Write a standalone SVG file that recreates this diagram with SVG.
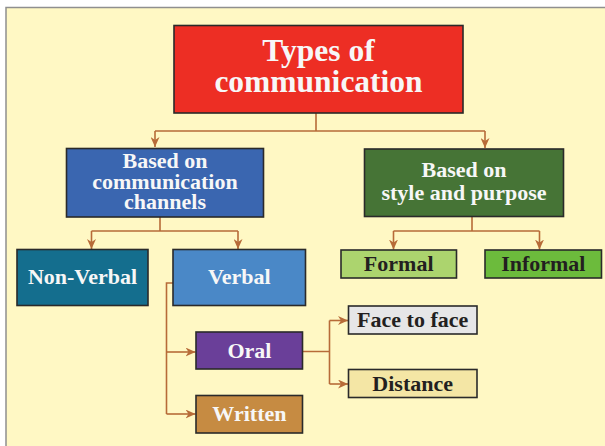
<svg xmlns="http://www.w3.org/2000/svg" width="605" height="446" viewBox="0 0 605 446">
<style>
.box{stroke:#2a2a2a;stroke-width:1.6}
.t{font-family:"Liberation Serif","Times New Roman",serif;font-weight:bold;text-anchor:middle}
.lt{fill:#f7f7f7}
.dk{fill:#231f20}
.m{font-size:22px}
.c{fill:none;stroke:#b76b38;stroke-width:1.6}
</style>
<defs>
<marker id="ah" markerUnits="userSpaceOnUse" markerWidth="11" markerHeight="9" refX="10" refY="4.5" orient="auto">
<path d="M0,0 L10,4.5 L0,9 L3,4.5 Z" fill="#b76b38"/>
</marker>
</defs>
<rect x="0" y="0" width="605" height="446" fill="#ffffff"/>
<rect x="6" y="7.5" width="620" height="460" fill="#fff8c4" stroke="#8f8f8f" stroke-width="1.5"/>

<g id="connectors">
<path class="c" d="M316,113 V131 M155,131 H485"/>
<path class="c" d="M155,131 V147" marker-end="url(#ah)"/>
<path class="c" d="M485,131 V148" marker-end="url(#ah)"/>
<path class="c" d="M160,217 V231 M91.5,231 H238"/>
<path class="c" d="M91.5,231 V249" marker-end="url(#ah)"/>
<path class="c" d="M238,231 V249" marker-end="url(#ah)"/>
<path class="c" d="M472,217 V231 M393.5,231 H539.5"/>
<path class="c" d="M393.5,231 V249.5" marker-end="url(#ah)"/>
<path class="c" d="M539.5,231 V249.5" marker-end="url(#ah)"/>
<path class="c" d="M173,283 H166.5 V414"/>
<path class="c" d="M166.5,352 H195.5" marker-end="url(#ah)"/>
<path class="c" d="M166.5,414 H195.5" marker-end="url(#ah)"/>
<path class="c" d="M302.5,351.5 H329.5 M329.5,320.5 V384"/>
<path class="c" d="M329.5,320.5 H348" marker-end="url(#ah)"/>
<path class="c" d="M329.5,384 H348" marker-end="url(#ah)"/>
</g>

<g id="title">
<rect class="box" x="174" y="25.5" width="289" height="87.5" fill="#ed2e24"/>
<text class="t lt" x="318.5" y="61" font-size="31.5">Types of</text>
<text class="t lt" x="318.5" y="92" font-size="31.5">communication</text>
</g>

<g id="channels">
<rect class="box" x="66.5" y="148.5" width="197" height="68.5" fill="#3a66b0"/>
<text class="t lt m" x="165" y="168">Based on</text>
<text class="t lt m" x="165" y="188.5">communication</text>
<text class="t lt m" x="165" y="209">channels</text>
</g>

<g id="style">
<rect class="box" x="364.5" y="149" width="199" height="67.5" fill="#467436"/>
<text class="t lt m" x="464" y="176.5">Based on</text>
<text class="t lt m" x="464" y="200">style and purpose</text>
</g>

<g id="nonverbal">
<rect class="box" x="17" y="249.5" width="131" height="56" fill="#146e8e"/>
<text class="t lt m" x="82.5" y="284">Non-Verbal</text>
</g>

<g id="verbal">
<rect class="box" x="173" y="249.5" width="132.5" height="56" fill="#4a88c7"/>
<text class="t lt m" x="239.3" y="283.5">Verbal</text>
</g>

<g id="formal">
<rect class="box" x="341" y="250" width="115.5" height="28" fill="#acd46e"/>
<text class="t dk m" x="398.7" y="270.5">Formal</text>
</g>

<g id="informal">
<rect class="box" x="485" y="250" width="116.5" height="28" fill="#6cbb3c"/>
<text class="t dk m" x="543.3" y="270.5">Informal</text>
</g>

<g id="oral">
<rect class="box" x="196" y="332" width="106.5" height="37" fill="#6a3f99"/>
<text class="t lt m" x="249.4" y="357.5">Oral</text>
</g>

<g id="written">
<rect class="box" x="196" y="395.5" width="106.5" height="37.5" fill="#c68b42"/>
<text class="t lt m" x="249.4" y="421">Written</text>
</g>

<g id="facetoface">
<rect class="box" x="348.5" y="306" width="128.5" height="28" fill="#e6e6e7"/>
<text class="t dk m" x="412.7" y="327">Face to face</text>
</g>

<g id="distance">
<rect class="box" x="348.5" y="369.5" width="128.5" height="28" fill="#f4e6a5"/>
<text class="t dk m" x="412.7" y="390.5">Distance</text>
</g>
</svg>
